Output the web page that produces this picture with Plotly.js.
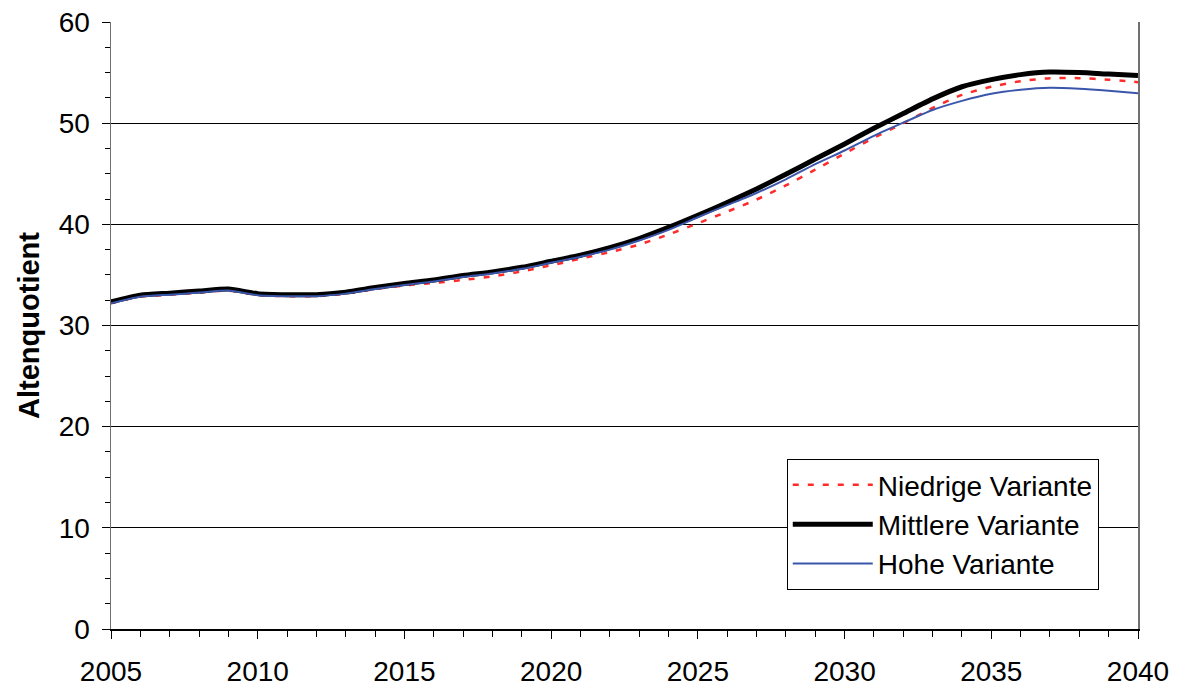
<!DOCTYPE html>
<html>
<head>
<meta charset="utf-8">
<script src="https://cdn.plot.ly/plotly-3.0.1.min.js"></script>
<style>html,body{margin:0;padding:0;background:#fff;}#chart{width:1178px;height:686px;}</style>
</head>
<body>
<div id="chart"></div>
<script>
var years = [2005,2006,2007,2008,2009,2010,2011,2012,2013,2014,2015,2016,2017,2018,2019,2020,2021,2022,2023,2024,2025,2026,2027,2028,2029,2030,2031,2032,2033,2034,2035,2036,2037,2038,2039,2040];
var niedrige = [32.2,32.85,33.05,33.25,33.45,33.0,32.9,32.9,33.15,33.6,33.95,34.2,34.5,34.85,35.35,35.95,36.6,37.25,38.0,39.0,40.1,41.25,42.45,43.85,45.4,47.0,48.55,50.0,51.5,52.8,53.6,54.15,54.45,54.45,54.3,54.05];
var mittlere = [32.35,33.0,33.2,33.4,33.6,33.15,33.05,33.05,33.3,33.75,34.15,34.5,34.95,35.3,35.75,36.35,36.95,37.7,38.6,39.7,40.9,42.15,43.5,44.95,46.45,47.95,49.5,50.95,52.4,53.6,54.3,54.8,55.05,55.0,54.85,54.7];
var hohe = [32.2,32.85,33.05,33.25,33.45,33.0,32.9,32.9,33.15,33.6,34.0,34.35,34.8,35.15,35.6,36.2,36.8,37.5,38.4,39.45,40.7,41.9,43.1,44.45,45.95,47.3,48.75,50.05,51.3,52.2,52.9,53.3,53.5,53.4,53.2,52.95];
var seriesNames = ["Niedrige Variante","Mittlere Variante","Hohe Variante"];
var yTitle = "Altenquotient";

var font = "Liberation Sans, Arial, sans-serif";
var traces = [
  {x: years, y: niedrige, name: seriesNames[0], legendgroup: "a", mode: "lines", line: {color: "#ff2a2a", width: 2.5, dash: "6px,9px", shape: "spline", smoothing: 0.6}},
  {x: years, y: mittlere, name: seriesNames[1], legendgroup: "b", mode: "lines", line: {color: "#000000", width: 5, shape: "spline", smoothing: 0.6}},
  {x: years, y: hohe, name: seriesNames[2], legendgroup: "c", mode: "lines", line: {color: "#3a56aa", width: 2, shape: "spline", smoothing: 0.6}}
];
var layout = {
  width: 1178, height: 686,
  margin: {l: 111, r: 40, t: 22, b: 57},
  paper_bgcolor: "#fff", plot_bgcolor: "#fff",
  font: {family: font, size: 28, color: "#000"},
  showlegend: true,
  legend: {x: 0.658, y: 0.28, xanchor: "left", yanchor: "top", bordercolor: "#000", borderwidth: 1, bgcolor: "#fff",
           font: {family: font, size: 28, color: "#000"}, itemwidth: 80, traceorder: "grouped", tracegroupgap: 0},
  xaxis: {range: [2005, 2040], dtick: 5, tick0: 2005, showgrid: false, zeroline: false,
          showline: true, linecolor: "#000", linewidth: 1.5,
          ticks: "outside", ticklen: 8, tickcolor: "#000", tickwidth: 1, ticklabelstandoff: 9,
          tickfont: {family: font, size: 28, color: "#000"},
          minor: {dtick: 1, ticks: "outside", ticklen: 6, tickcolor: "#000", showgrid: false}},
  yaxis: {range: [0, 60], dtick: 10, showgrid: true, gridcolor: "#000", gridwidth: 1, zeroline: false,
          showline: true, linecolor: "#707070", linewidth: 1.5, mirror: true,
          ticks: "outside", ticklen: 8, tickcolor: "#000", tickwidth: 1, ticklabelstandoff: 6,
          tickfont: {family: font, size: 28, color: "#000"},
          title: {text: yTitle, font: {family: font, size: 29, color: "#000", weight: "bold"}, standoff: 10},
          minor: {dtick: 2.5, ticks: "outside", ticklen: 5, tickcolor: "#000", showgrid: false}}
};
Plotly.newPlot("chart", traces, layout, {staticPlot: true, displayModeBar: false});
</script>
</body>
</html>
